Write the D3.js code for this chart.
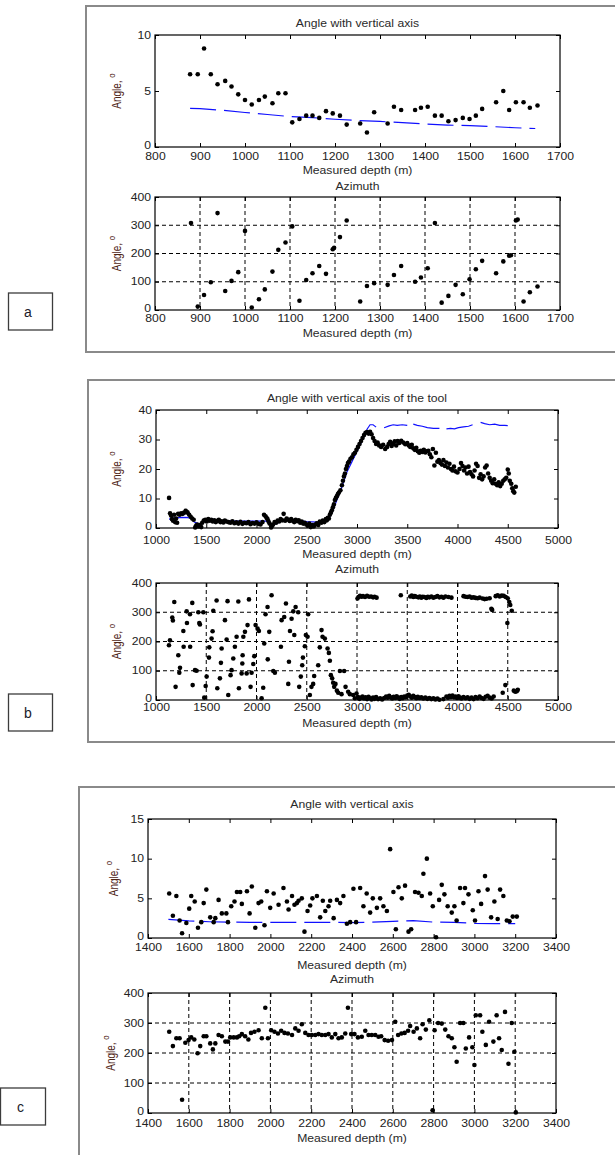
<!DOCTYPE html>
<html><head><meta charset="utf-8">
<script src="https://cdn.jsdelivr.net/npm/d3@7"></script>
<style>html,body{margin:0;padding:0;background:#fff;}svg{display:block;}</style>
</head><body>
<script>
// ---------------- DATA ----------------
const panelLetters = ["a", "b", "c"];
const titlesA = ["Angle with vertical axis", "Azimuth"];
const titlesB = ["Angle with vertical axis of the tool", "Azimuth"];
const titlesC = ["Angle with vertical axis", "Azimuth"];
const xLabel = "Measured depth (m)";
const yLabel = "Angle, ";
const yLabelSup = "o";

const xTicksA = [800, 900, 1000, 1100, 1200, 1300, 1400, 1500, 1600, 1700];
const xTicksB = [1000, 1500, 2000, 2500, 3000, 3500, 4000, 4500, 5000];
const xTicksC = [1400, 1600, 1800, 2000, 2200, 2400, 2600, 2800, 3000, 3200, 3400];
const yTicksA1 = [0, 5, 10];
const yTicksB1 = [0, 10, 20, 30, 40];
const yTicksC1 = [0, 5, 10, 15];
const yTicksAz = [0, 100, 200, 300, 400];

// Panel a - inclination (measured points)
const aAngle = [[878,6.5],[895,6.5],[909,8.8],[924,6.5],[939,5.6],[956,5.9],[970,5.4],[985,4.7],[1000,4.2],[1015,3.8],[1031,4.2],[1044,4.5],[1061,3.9],[1074,4.8],[1090,4.8],[1105,2.2],[1121,2.5],[1136,2.8],[1150,2.8],[1165,2.6],[1180,3.2],[1195,3.0],[1211,2.8],[1226,2.0],[1256,2.1],[1271,1.3],[1287,3.1],[1317,2.1],[1331,3.6],[1347,3.3],[1378,3.3],[1391,3.5],[1406,3.6],[1422,2.8],[1437,2.8],[1452,2.3],[1468,2.4],[1484,2.6],[1499,2.5],[1513,2.8],[1527,3.4],[1558,4.0],[1574,5.0],[1587,3.3],[1602,4.0],[1619,4.0],[1633,3.5],[1650,3.7]];
// Panel a - inclination (reference, blue)
const aAngleRef = [[878,3.45],[900,3.42],[950,3.28],[1000,3.08],[1050,2.9],[1100,2.72],[1150,2.62],[1200,2.48],[1250,2.36],[1300,2.28],[1350,2.18],[1400,2.06],[1450,1.96],[1500,1.9],[1550,1.82],[1600,1.72],[1645,1.65]];
// Panel a - azimuth
const aAzimuth = [[880,308],[895,12],[909,53],[924,98],[939,343],[956,67],[970,103],[985,134],[1000,280],[1015,9],[1031,38],[1044,73],[1061,136],[1074,213],[1090,239],[1105,296],[1121,33],[1136,106],[1150,130],[1165,156],[1180,128],[1195,215],[1198,220],[1211,258],[1226,317],[1256,30],[1271,85],[1287,95],[1317,89],[1331,124],[1347,156],[1378,100],[1391,115],[1406,148],[1422,308],[1437,26],[1452,50],[1468,89],[1484,56],[1499,109],[1513,144],[1527,174],[1558,130],[1574,172],[1587,192],[1591,194],[1602,317],[1606,320],[1619,30],[1633,63],[1650,83]];

// Panel b - inclination (measured points)
const bAngle = [[1130,10.2],[1140,5.0],[1150,4.2],[1160,3.0],[1170,2.5],[1180,4.5],[1190,2.0],[1200,3.2],[1210,1.8],[1220,4.8],[1235,4.5],[1250,5.0],[1265,4.8],[1280,5.2],[1295,5.8],[1305,5.5],[1315,5.2],[1330,4.5],[1345,3.8],[1360,3.2],[1375,2.8],[1390,0.2],[1400,0.8],[1410,1.2],[1420,0.5],[1435,1.0],[1450,0.3],[1460,1.8],[1475,2.5],[1490,2.8],[1505,2.2],[1520,3.0],[1535,2.5],[1550,2.8],[1565,2.2],[1580,2.6],[1595,2.0],[1610,2.4],[1625,2.8],[1640,2.0],[1655,2.3],[1670,1.9],[1685,2.5],[1700,2.2],[1720,2.0],[1740,1.8],[1760,2.3],[1780,1.6],[1800,1.9],[1820,1.5],[1840,2.1],[1860,1.4],[1880,1.8],[1900,1.6],[1920,2.0],[1940,1.3],[1960,1.7],[1980,1.5],[2000,1.9],[2020,1.4],[2040,1.2],[2060,2.0],[2075,4.5],[2090,4.0],[2100,3.5],[2110,3.0],[2120,2.2],[2130,1.5],[2145,0.2],[2155,0.8],[2165,1.2],[2180,2.0],[2195,1.8],[2210,2.5],[2225,2.2],[2240,3.0],[2255,2.6],[2270,4.8],[2285,2.5],[2300,3.2],[2315,2.8],[2330,2.4],[2345,3.0],[2360,2.5],[2375,2.0],[2390,2.8],[2405,2.3],[2420,2.6],[2435,1.8],[2450,2.2],[2465,1.5],[2480,1.8],[2495,1.2],[2510,0.8],[2525,1.5],[2540,0.3],[2555,1.0],[2570,0.5],[2585,1.2],[2600,1.6],[2615,1.0],[2630,2.2],[2645,1.8],[2660,2.5],[2675,2.0],[2690,3.0],[2700,2.6],[2710,3.5],[2720,3.2],[2730,4.5],[2740,5.2],[2750,6.0],[2760,7.0],[2770,8.0],[2780,9.5],[2790,10.2],[2800,10.8],[2810,11.5],[2820,12.0],[2835,12.8],[2850,14.5],[2860,16.0],[2870,17.5],[2880,18.5],[2890,20.0],[2900,21.0],[2910,22.0],[2920,22.5],[2935,23.5],[2950,24.0],[2965,25.0],[2980,25.5],[2995,26.5],[3010,27.5],[3025,28.5],[3040,29.5],[3055,30.5],[3070,31.5],[3085,32.3],[3100,32.5],[3115,32.0],[3130,32.6],[3145,31.8],[3160,30.5],[3175,29.5],[3190,28.5],[3205,29.0],[3220,28.0],[3240,27.5],[3260,28.2],[3280,26.8],[3300,27.5],[3315,28.5],[3330,29.2],[3345,27.8],[3360,28.6],[3375,29.4],[3390,28.0],[3405,29.5],[3420,28.8],[3440,29.6],[3460,29.0],[3480,28.4],[3500,28.8],[3515,28.0],[3530,27.5],[3545,28.2],[3560,27.0],[3575,26.5],[3590,27.2],[3605,26.0],[3620,25.5],[3635,26.2],[3650,25.8],[3665,26.5],[3680,25.6],[3695,26.0],[3710,26.2],[3725,25.0],[3740,24.0],[3755,26.8],[3770,21.2],[3785,25.5],[3800,22.5],[3815,23.0],[3830,22.0],[3845,21.5],[3860,23.0],[3875,21.0],[3890,22.2],[3905,20.5],[3920,21.8],[3935,20.0],[3950,19.5],[3965,20.8],[3980,19.2],[4000,18.8],[4020,20.0],[4035,22.0],[4050,21.0],[4065,19.5],[4080,20.5],[4095,18.5],[4110,20.8],[4125,19.0],[4140,18.2],[4155,17.5],[4170,19.5],[4185,21.8],[4200,21.0],[4215,17.0],[4230,18.2],[4245,16.5],[4260,17.5],[4275,20.5],[4290,21.2],[4305,18.5],[4320,17.0],[4335,16.0],[4350,15.2],[4365,16.5],[4380,15.0],[4395,14.5],[4410,15.5],[4425,14.2],[4440,15.0],[4455,16.0],[4470,16.5],[4485,17.0],[4500,19.8],[4510,18.5],[4520,16.0],[4535,15.0],[4545,13.5],[4555,12.5],[4565,12.0],[4580,14.0]];
// Panel b - inclination (reference, blue; null = gap)
const bAngleRef = [[1130,3.0],[1200,3.5],[1300,3.6],[1350,3.3],[1380,2.0],[1420,1.5],[1460,1.5],[1500,3.0],[1560,3.0],[1620,2.5],[1700,2.4],[1800,2.3],[1900,2.3],[2000,2.3],[2100,2.3],[2150,1.2],[2200,1.5],[2250,2.5],[2300,3.0],[2400,2.6],[2500,2.2],[2600,2.0],[2700,2.2],[2750,5.0],[2800,9.5],[2850,14.0],[2900,19.0],[2950,22.5],[3000,26.0],[3050,29.5],[3100,33.5],[3130,35.0],[3160,35.0],[3190,34.2],[3230,null],[3270,34.0],[3320,34.6],[3360,35.0],[3400,34.8],[3450,35.0],[3500,34.8],[3530,null],[3560,35.2],[3600,34.8],[3650,34.5],[3700,34.0],[3760,33.8],[3820,33.8],[3850,null],[3890,33.6],[3930,33.8],[3970,33.6],[4010,34.0],[4060,34.3],[4110,34.5],[4150,35.0],[4190,null],[4230,35.8],[4270,35.4],[4320,35.0],[4370,35.2],[4420,34.8],[4470,34.8],[4500,34.7]];
// Panel b - azimuth
const bAzimuth = [[1129,187],[1139,204],[1162,282],[1168,272],[1182,335],[1195,45],[1222,153],[1232,93],[1239,110],[1272,236],[1275,182],[1305,303],[1308,263],[1338,293],[1340,182],[1361,332],[1365,51],[1388,102],[1404,100],[1421,300],[1431,263],[1437,258],[1471,300],[1480,8],[1494,48],[1504,80],[1527,145],[1530,180],[1553,210],[1563,235],[1570,305],[1603,340],[1610,40],[1636,74],[1646,127],[1653,176],[1686,273],[1703,207],[1712,338],[1719,17],[1742,85],[1752,102],[1769,142],[1785,182],[1802,216],[1819,337],[1825,40],[1852,91],[1859,125],[1862,153],[1869,216],[1885,233],[1902,91],[1911,256],[1925,344],[1941,45],[1951,93],[1968,123],[1978,150],[1991,256],[2011,244],[2024,236],[2051,6],[2067,42],[2077,193],[2090,293],[2110,318],[2112,139],[2127,233],[2150,358],[2167,99],[2183,93],[2243,182],[2250,273],[2276,284],[2293,330],[2316,55],[2323,131],[2333,236],[2349,278],[2366,303],[2376,222],[2389,318],[2415,300],[2425,45],[2441,80],[2455,119],[2462,145],[2481,184],[2491,222],[2508,216],[2514,293],[2531,17],[2547,45],[2564,55],[2574,82],[2614,119],[2630,180],[2647,239],[2657,216],[2680,210],[2707,176],[2720,161],[2730,134],[2740,85],[2753,74],[2763,59],[2773,45],[2786,55],[2800,32],[2813,25],[2830,99],[2846,20],[2872,99],[2886,45],[2912,28],[2929,20],[2962,17],[2979,6],
 [3005,347],[3015,352],[3030,356],[3045,353],[3060,355],[3080,352],[3100,356],[3120,353],[3140,354],[3160,351],[3175,353],[3195,350],[3436,358],[3530,354],[3545,357],[3560,352],[3575,355],[3590,353],[3610,351],[3625,354],[3640,350],[3655,353],[3670,352],[3690,349],[3705,353],[3720,351],[3740,354],[3760,350],[3780,352],[3800,355],[3820,351],[3840,353],[3860,350],[3880,354],[3910,352],[3940,350],[4060,355],[4080,353],[4100,352],[4120,354],[4140,350],[4160,351],[4180,349],[4200,348],[4220,350],[4250,347],[4270,345],[4290,346],[4320,348],[4337,312],[4345,308],[4380,355],[4400,358],[4420,354],[4440,357],[4460,356],[4480,352],[4500,348],[4515,335],[4525,325],[4540,305],[4496,263],[4476,51],[4450,25],[4560,32],[4575,28],[4590,30],[4600,35],
 [2995,22],[3010,10],[3025,4],[3040,8],[3055,12],[3070,5],[3085,9],[3100,3],[3115,11],[3130,6],[3145,2],[3160,8],[3175,4],[3190,10],[3210,3],[3230,6],[3250,2],[3270,7],[3290,12],[3305,8],[3320,14],[3335,9],[3350,5],[3365,11],[3380,7],[3395,13],[3410,8],[3425,4],[3440,10],[3455,6],[3470,12],[3485,9],[3500,15],[3515,18],[3530,12],[3545,8],[3560,14],[3575,10],[3590,6],[3605,11],[3620,7],[3640,9],[3660,5],[3680,8],[3700,4],[3720,7],[3740,3],[3760,6],[3780,2],[3800,5],[3820,1],[3860,3],[3890,12],[3905,8],[3920,14],[3935,10],[3950,15],[3965,9],[3980,12],[3995,7],[4010,13],[4025,8],[4040,5],[4060,10],[4080,6],[4100,9],[4120,4],[4140,8],[4160,3],[4180,10],[4200,6],[4220,12],[4240,7],[4260,4],[4280,11],[4300,14],[4320,8],[4340,5],[4360,12]];

// Panel c - inclination (measured points)
const cAngle = [[1504,5.6],[1522,2.8],[1539,5.3],[1555,2.2],[1567,0.6],[1588,1.9],[1602,3.7],[1612,5.3],[1629,4.6],[1645,1.3],[1661,2.0],[1673,4.4],[1686,6.1],[1705,2.6],[1722,2.0],[1730,2.5],[1746,4.8],[1762,3.1],[1784,3.1],[1792,2.0],[1808,4.0],[1824,4.6],[1836,5.8],[1852,5.8],[1860,4.3],[1885,5.9],[1898,3.1],[1909,6.5],[1926,1.3],[1942,4.4],[1955,4.6],[1971,1.6],[1983,5.9],[1999,3.8],[2016,5.6],[2040,4.2],[2064,6.3],[2081,4.6],[2089,3.6],[2106,5.3],[2118,4.2],[2130,4.4],[2138,4.7],[2154,5.0],[2167,0.8],[2182,3.4],[2195,4.1],[2206,5.0],[2228,5.3],[2244,2.6],[2257,4.7],[2269,3.4],[2285,4.0],[2293,4.7],[2310,2.5],[2326,4.8],[2342,4.4],[2358,5.3],[2375,1.8],[2391,2.0],[2407,6.2],[2420,2.0],[2440,6.3],[2456,4.0],[2472,5.6],[2489,3.2],[2502,5.0],[2522,3.8],[2538,5.0],[2554,4.0],[2571,3.4],[2587,11.2],[2603,5.8],[2615,1.1],[2628,6.4],[2644,5.0],[2660,6.6],[2677,0.8],[2690,1.1],[2709,5.8],[2726,5.7],[2742,5.3],[2750,8.1],[2767,10.0],[2783,5.6],[2796,4.0],[2812,0.1],[2827,4.8],[2840,6.7],[2853,5.5],[2869,4.0],[2889,3.2],[2902,4.0],[2913,2.2],[2930,6.3],[2946,4.4],[2954,6.3],[2971,5.5],[2992,3.5],[3003,2.2],[3020,5.9],[3033,4.3],[3052,7.8],[3065,6.1],[3082,2.6],[3098,4.6],[3114,2.4],[3126,6.1],[3142,5.3],[3159,2.2],[3172,2.1],[3188,2.7],[3208,2.7]];
// Panel c - inclination (reference, blue)
const cAngleRef = [[1500,2.35],[1550,2.25],[1600,2.15],[1650,2.1],[1700,2.05],[1800,2.0],[1900,1.97],[2000,1.97],[2100,1.97],[2200,1.97],[2300,1.97],[2400,1.95],[2500,2.0],[2600,2.1],[2700,2.2],[2800,2.0],[2900,1.97],[3000,1.85],[3100,1.8],[3200,1.8]];
// Panel c - azimuth
const cAzimuth = [[1504,271],[1522,223],[1539,249],[1555,249],[1567,44],[1583,234],[1599,243],[1612,252],[1627,245],[1643,199],[1656,223],[1673,256],[1686,256],[1705,232],[1718,212],[1730,232],[1746,260],[1762,256],[1779,238],[1792,238],[1803,252],[1820,252],[1836,252],[1847,256],[1860,263],[1876,256],[1892,245],[1905,267],[1922,271],[1942,276],[1958,249],[1975,351],[1988,249],[2004,276],[2020,271],[2037,265],[2053,274],[2069,267],[2086,265],[2106,260],[2122,282],[2138,274],[2154,296],[2171,267],[2187,260],[2203,260],[2220,260],[2236,263],[2252,260],[2269,260],[2285,263],[2301,252],[2318,263],[2334,249],[2350,252],[2367,265],[2380,351],[2396,263],[2412,263],[2429,252],[2448,254],[2465,274],[2481,260],[2497,260],[2514,260],[2530,254],[2543,256],[2560,243],[2577,241],[2596,243],[2612,304],[2626,260],[2642,265],[2658,267],[2675,274],[2685,290],[2702,271],[2718,282],[2734,249],[2746,296],[2762,278],[2779,309],[2795,9],[2805,276],[2822,300],[2840,298],[2857,278],[2873,256],[2889,249],[2902,219],[2913,171],[2930,300],[2946,300],[2958,215],[2974,252],[2990,219],[3000,160],[3007,326],[3028,326],[3039,271],[3056,227],[3072,304],[3093,238],[3109,326],[3121,249],[3134,210],[3150,337],[3167,164],[3183,300],[3196,204],[3203,2]];

// ---------------- DRAWING ----------------
const W = 615, H = 1155;
const SX = 1.22;           // horizontal stretch of the original raster text
const FONT = "'Liberation Sans', Arial, sans-serif";
const svg = d3.select("body").append("svg").attr("width", W).attr("height", H);

// panel frames
const frames = [
  {x: 86, y: 6, w: 560, h: 346},
  {x: 88, y: 380, w: 560, h: 362},
  {x: 79, y: 787, w: 600, h: 420}
];
svg.selectAll("rect.frame").data(frames).enter().append("rect")
  .attr("class", "frame")
  .attr("x", d => d.x).attr("y", d => d.y).attr("width", d => d.w).attr("height", d => d.h)
  .attr("fill", "none").attr("stroke", "#8a8a8a").attr("stroke-width", 2);

// letter boxes
const letterBoxes = [
  {x: 8, y: 293, w: 44, h: 37},
  {x: 8, y: 694, w: 44, h: 37},
  {x: 0, y: 1088, w: 45, h: 37}
];
letterBoxes.forEach((b, i) => {
  svg.append("rect").attr("x", b.x + 0.5).attr("y", b.y).attr("width", b.w).attr("height", b.h)
    .attr("fill", "#fff").attr("stroke", "#3c3c3c").attr("stroke-width", 1.3);
  svg.append("text").attr("x", b.x + b.w / 2 - 2).attr("y", b.y + b.h / 2 + 5)
    .attr("text-anchor", "middle").attr("font-family", FONT).attr("font-size", 14)
    .attr("fill", "#1a1a2a").text(panelLetters[i]);
});

function stretchedText(x, y, s, opts = {}) {
  return svg.append("text")
    .attr("transform", `translate(${x},${y}) scale(${SX},1)`)
    .attr("text-anchor", opts.anchor || "middle")
    .attr("font-family", FONT)
    .attr("font-size", opts.size || 10)
    .attr("fill", opts.fill || "#333")
    .text(s);
}

function plot(cfg) {
  const x = d3.scaleLinear().domain(cfg.xd).range([cfg.x0, cfg.x1]);
  const y = d3.scaleLinear().domain(cfg.yd).range([cfg.y1, cfg.y0]);
  const g = svg.append("g");

  // grid
  if (cfg.grid) {
    g.selectAll("line.gx").data(cfg.xt.slice(1, -1)).enter().append("line")
      .attr("x1", d => x(d)).attr("x2", d => x(d)).attr("y1", cfg.y0).attr("y2", cfg.y1)
      .attr("stroke", "#000").attr("stroke-width", 1).attr("stroke-dasharray", "4,3");
    g.selectAll("line.gy").data(cfg.yt.slice(1, -1)).enter().append("line")
      .attr("y1", d => y(d)).attr("y2", d => y(d)).attr("x1", cfg.x0).attr("x2", cfg.x1)
      .attr("stroke", "#000").attr("stroke-width", 1).attr("stroke-dasharray", "4,3");
  }

  // reference line
  if (cfg.ref) {
    const line = d3.line().defined(d => d[1] !== null).x(d => x(d[0])).y(d => y(d[1]));
    g.append("path").datum(cfg.ref).attr("d", line).attr("fill", "none")
      .attr("stroke", "#1010ff").attr("stroke-width", 1.2)
      .attr("stroke-dasharray", cfg.refDash || null);
  }

  // points
  g.selectAll("circle").data(cfg.pts).enter().append("circle")
    .attr("cx", d => x(d[0])).attr("cy", d => y(d[1])).attr("r", 2.3).attr("fill", "#000");

  // box
  g.append("rect").attr("x", cfg.x0).attr("y", cfg.y0)
    .attr("width", cfg.x1 - cfg.x0).attr("height", cfg.y1 - cfg.y0)
    .attr("fill", "none").attr("stroke", "#000").attr("stroke-width", 1.2);

  const styleAxis = sel => {
    sel.select(".domain").remove();
    sel.attr("font-family", FONT).attr("font-size", 10);
    sel.selectAll(".tick line").attr("stroke", "#000").attr("stroke-width", 1);
  };

  // bottom axis with labels
  const bx = g.append("g").attr("transform", `translate(0,${cfg.y1})`)
    .call(d3.axisBottom(x).tickValues(cfg.xt).tickSizeInner(-4).tickSizeOuter(0).tickFormat(d3.format("d")))
    .call(styleAxis);
  bx.selectAll(".tick text").attr("y", 0).attr("dy", null).attr("fill", "#222")
    .attr("transform", `translate(0,${cfg.xOff + 3.6}) scale(${SX},1)`);

  // left axis with labels
  const ly = g.append("g").attr("transform", `translate(${cfg.x0},0)`)
    .call(d3.axisLeft(y).tickValues(cfg.yt).tickSizeInner(-4).tickSizeOuter(0).tickFormat(d3.format("d")))
    .call(styleAxis);
  ly.selectAll(".tick text").attr("x", 0).attr("fill", "#222")
    .attr("transform", d => `translate(-4,${d === cfg.yd[0] ? -1.5 : 0}) scale(${SX},1)`);

  // top & right ticks only
  g.append("g").attr("transform", `translate(0,${cfg.y0})`)
    .call(d3.axisTop(x).tickValues(cfg.xt).tickSizeInner(-4).tickSizeOuter(0).tickFormat(""))
    .call(styleAxis);
  g.append("g").attr("transform", `translate(${cfg.x1},0)`)
    .call(d3.axisRight(y).tickValues(cfg.yt).tickSizeInner(-4).tickSizeOuter(0).tickFormat(""))
    .call(styleAxis);

  // title & x label
  stretchedText((cfg.x0 + cfg.x1) / 2, cfg.titleY + 3.5, cfg.title, {fill: "#2a2a2a"});
  stretchedText((cfg.x0 + cfg.x1) / 2, cfg.xlabY + 3.5, xLabel, {fill: "#2a2a2a"});

  // y label
  const yc = (cfg.y0 + cfg.y1) / 2;
  const t = svg.append("text")
    .attr("transform", `translate(${cfg.ylabX + 3},${yc}) scale(${SX},1) rotate(-90)`)
    .attr("text-anchor", "middle").attr("font-family", FONT).attr("font-size", 10)
    .attr("fill", "#4e2414");
  t.append("tspan").text(yLabel);
  t.append("tspan").attr("dy", -5).attr("font-size", 8).text(yLabelSup);
}

const DASH = "26,8";
// Panel a
plot({x0: 155, x1: 560, y0: 35, y1: 147, xd: [800, 1700], yd: [0, 10], xt: xTicksA, yt: yTicksA1,
  pts: aAngle, ref: aAngleRef, refDash: DASH, grid: false,
  title: titlesA[0], titleY: 23, xOff: 9, xlabY: 170, ylabX: 118});
plot({x0: 155, x1: 560, y0: 197, y1: 310, xd: [800, 1700], yd: [0, 400], xt: xTicksA, yt: yTicksAz,
  pts: aAzimuth, grid: true,
  title: titlesA[1], titleY: 186, xOff: 8, xlabY: 333, ylabX: 118});
// Panel b
plot({x0: 156, x1: 558, y0: 410, y1: 528, xd: [1000, 5000], yd: [0, 40], xt: xTicksB, yt: yTicksB1,
  pts: bAngle, ref: bAngleRef, grid: false,
  title: titlesB[0], titleY: 398, xOff: 12, xlabY: 554, ylabX: 118});
plot({x0: 156, x1: 558, y0: 583, y1: 700, xd: [1000, 5000], yd: [0, 400], xt: xTicksB, yt: yTicksAz,
  pts: bAzimuth, grid: true,
  title: titlesB[1], titleY: 569, xOff: 7.5, xlabY: 723, ylabX: 118});
// Panel c
plot({x0: 148, x1: 556, y0: 819, y1: 938, xd: [1400, 3400], yd: [0, 15], xt: xTicksC, yt: yTicksC1,
  pts: cAngle, ref: cAngleRef, refDash: DASH, grid: false,
  title: titlesC[0], titleY: 804, xOff: 9, xlabY: 965, ylabX: 115});
plot({x0: 148, x1: 556, y0: 993, y1: 1113, xd: [1400, 3400], yd: [0, 400], xt: xTicksC, yt: yTicksAz,
  pts: cAzimuth, grid: true,
  title: titlesC[1], titleY: 979, xOff: 10, xlabY: 1138, ylabX: 112});
</script>
</body></html>
